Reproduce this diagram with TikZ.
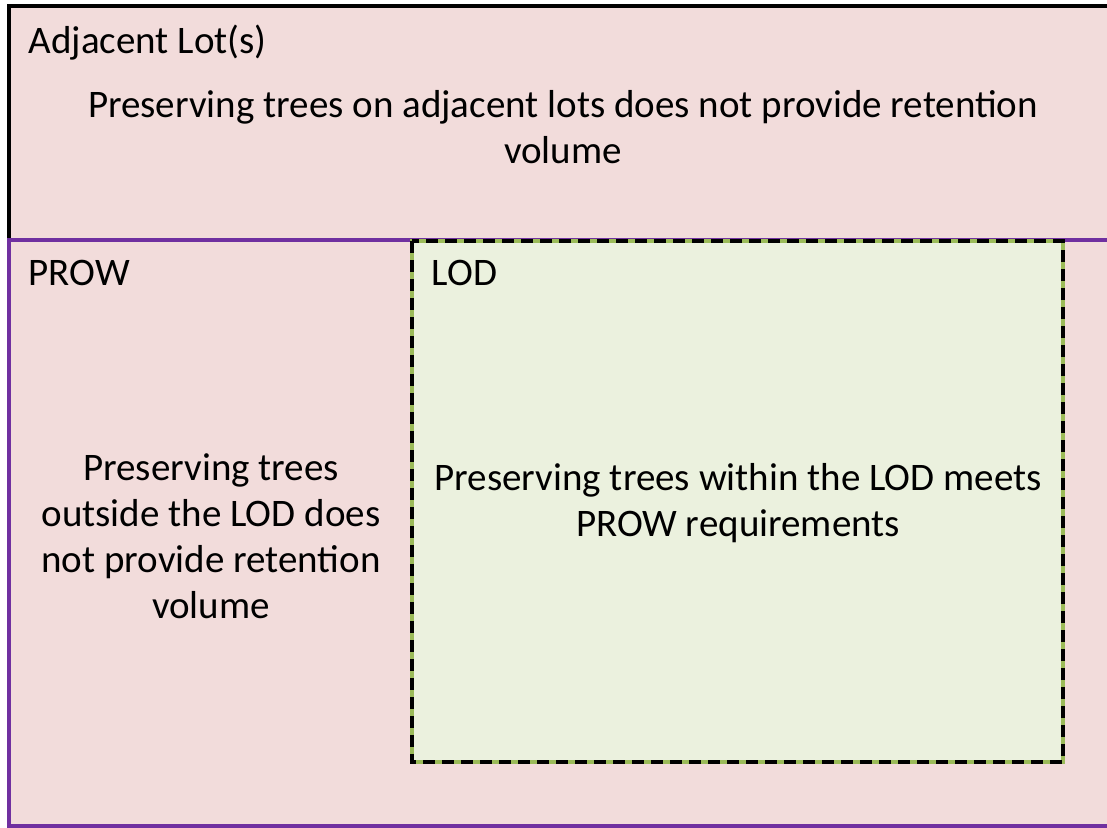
\documentclass[tikz,border=0pt]{standalone}
\usepackage{fontspec}
\setmainfont{Carlito}
\definecolor{lotpink}{RGB}{242,220,219}
\definecolor{prowpurple}{RGB}{112,48,160}
\definecolor{lodgreen}{RGB}{155,187,89}
\definecolor{lodfill}{RGB}{235,241,222}
\tikzset{
  lbl/.style={inner sep=0pt, font=\fontsize{39}{46}\selectfont},
  body/.style={lbl, align=center}
}
\begin{document}
\begin{tikzpicture}[x=1pt, y=-1pt, line width=3.5pt]
            \useasboundingbox (0,0) rectangle (1107,827);
            \fill[white] (0,0) rectangle (1107,827);
            % Adjacent lots
            \draw[fill=lotpink] (9,6) rectangle (1120,240);
            \node[lbl, anchor=west] (adj) at (27,43) {Adjacent Lot(s)};
            \node[body] (adjtxt) at (563,127) {Preserving trees on adjacent lots does not provide retention\\volume};
            % PROW
            \draw[prowpurple, fill=lotpink] (9,240) rectangle (1120,826);
            \node[lbl, anchor=west] (prow) at (27,273) {PROW};
            \node[body] (prowtxt) at (211,536) {Preserving trees\\outside the LOD does\\not provide retention\\volume};
            % LOD
            \draw[lodgreen, line width=4.5pt, fill=lodfill] (412,241) rectangle (1063,762);
            \draw[black, line width=4.5pt, dash pattern=on 12pt off 7pt] (412,241) rectangle (1063,762);
            \node[lbl, anchor=west] (lod) at (430,273) {LOD};
            \node[body] (lodtxt) at (738,503) {Preserving trees within the LOD meets\\PROW requirements};
        \end{tikzpicture}
\end{document}
